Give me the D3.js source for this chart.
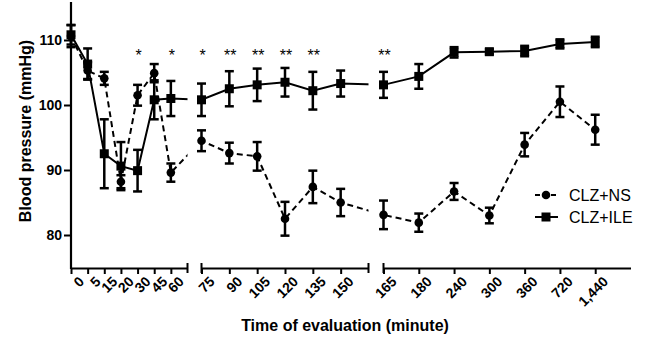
<!DOCTYPE html>
<html>
<head>
<meta charset="utf-8">
<script src="https://cdn.jsdelivr.net/npm/d3@7"></script>
<style>
  body { margin: 0; background: #fff; }
  text { font-family: "Liberation Sans", Arial, sans-serif; fill: #000; }
</style>
</head>
<body>
<div id="chart"></div>
<script>
// time points (minutes), as printed on the x axis
var times = ["0", "5", "15", "20", "30", "45", "60", "75", "90", "105", "120", "135", "150",
             "165", "180", "240", "300", "360", "720", "1,440"];
// CLZ+NS (circles, dashed)
var ns    = [110.6, 105.3, 104.1, 88.2, 101.5, 104.9, 89.6, 94.5, 92.6, 92.1, 82.5, 87.4, 85.0,
             83.1, 81.9, 86.7, 83.0, 93.9, 100.5, 96.2];
var nsErr = [1.7, 1.3, 1.0, 1.0, 1.6, 1.4, 1.4, 1.6, 1.6, 2.2, 2.6, 2.5, 2.1,
             2.2, 1.4, 1.3, 1.2, 1.8, 2.35, 2.3];
// CLZ+ILE (squares, solid)
var ile    = [110.8, 106.3, 92.5, 90.6, 89.9, 100.8, 101.0, 100.8, 102.5, 103.1, 103.5, 102.2, 103.3,
              103.1, 104.4, 108.1, 108.2, 108.3, 109.4, 109.7];
var ileErr = [1.5, 2.4, 5.3, 3.7, 3.2, 3.0, 2.7, 2.5, 2.7, 2.5, 2.2, 2.9, 2.0,
              2.0, 1.9, 0.8, 0.4, 0.8, 0.7, 0.8];
// significance marks above each time point
var signif = ["", "", "", "", "*", "", "*", "*", "**", "**", "**", "**", "",
              "**", "", "", "", "", "", ""];
var yTicks = [80, 90, 100, 110];

var w = 648, h = 340;
var axisY = 268;

// the x axis is broken in three pieces
var segs = [
  { first: 0,  last: 6,  x: d3.scaleLinear().domain([0, 7]).range([71, 187.5]) },
  { first: 7,  last: 12, x: d3.scaleLinear().domain([7, 13]).range([201.5, 368.5]) },
  { first: 13, last: 19, x: d3.scaleLinear().domain([13, 20]).range([383.5, 630.5]) }
];
function xPos(i) {
  for (var s = 0; s < segs.length; s++)
    if (i >= segs[s].first && i <= segs[s].last) return segs[s].x(i);
}

var y = d3.scaleLinear().domain([75, 115]).range([267.5, 7.5]);

var svg = d3.select("#chart").append("svg")
    .attr("width", w)
    .attr("height", h);

// clip for the connecting lines: they stop at the axis breaks
var clip = svg.append("defs").append("clipPath").attr("id", "segclip");
segs.forEach(function(s) {
  var r = s.x.range();
  clip.append("rect").attr("x", r[0]).attr("y", 0)
      .attr("width", r[1] - r[0]).attr("height", h);
});

// y axis
var yAxis = svg.append("g")
    .attr("transform", "translate(71,0)")
    .call(d3.axisLeft(y).tickValues(yTicks).tickSize(7).tickSizeOuter(0).tickPadding(2));
yAxis.select(".domain").attr("stroke-width", 2.2).attr("d", "M0,2V269");
yAxis.selectAll(".tick line").attr("stroke-width", 2);
yAxis.selectAll(".tick text")
    .style("font-size", "14px").style("font-weight", "bold")
    .attr("font-family", null);

// x axis pieces
segs.forEach(function(s, k) {
  var idx = d3.range(s.first, s.last + 1);
  var g = svg.append("g")
      .attr("transform", "translate(0," + axisY + ")")
      .call(d3.axisBottom(s.x).tickValues(idx).tickSize(6).tickSizeOuter(0)
            .tickFormat(function(i) { return times[i]; }));
  g.select(".domain").attr("stroke-width", 2.2);
  g.selectAll(".tick line").attr("stroke-width", 2);
  g.selectAll(".tick text")
      .attr("font-family", null)
      .style("font-size", "14px").style("font-weight", "bold")
      .attr("text-anchor", "end")
      .attr("transform", "translate(6,7) rotate(-45)")
      .attr("x", 0).attr("y", 0).attr("dy", "0.75em");
  // break marks
  var r = s.x.range();
  if (k > 0) g.append("line").attr("x1", r[0]).attr("x2", r[0]).attr("y1", -5).attr("y2", 5)
      .attr("stroke", "#000").attr("stroke-width", 2);
  if (k < segs.length - 1) g.append("line").attr("x1", r[1]).attr("x2", r[1]).attr("y1", -5).attr("y2", 5)
      .attr("stroke", "#000").attr("stroke-width", 2);
});

// series
var series = [
  { name: "CLZ+NS",  vals: ns,  err: nsErr,  dash: "6,4", shape: "circle" },
  { name: "CLZ+ILE", vals: ile, err: ileErr, dash: null,  shape: "square" }
];

var line = d3.line()
    .x(function(d, i) { return xPos(i); })
    .y(function(d) { return y(d); });

function drawMarker(g, shape, cx, cy) {
  if (shape == "circle")
    g.append("circle").attr("cx", cx).attr("cy", cy).attr("r", 4.3).attr("fill", "#000");
  else
    g.append("rect").attr("x", cx - 4.5).attr("y", cy - 4.5)
        .attr("width", 9).attr("height", 9).attr("fill", "#000");
}

series.forEach(function(s) {
  svg.append("path")
      .datum(s.vals)
      .attr("clip-path", "url(#segclip)")
      .attr("d", line)
      .attr("fill", "none")
      .attr("stroke", "#000")
      .attr("stroke-width", 2)
      .attr("stroke-dasharray", s.dash);
  var g = svg.append("g");
  for (var i = 0; i < s.vals.length; i++) {
    var cx = xPos(i);
    var top = y(s.vals[i] + s.err[i]);
    var bot = y(s.vals[i] - s.err[i]);
    g.append("line").attr("x1", cx).attr("x2", cx).attr("y1", top).attr("y2", bot)
        .attr("stroke", "#000").attr("stroke-width", 2.5);
    [top, bot].forEach(function(yy) {
      g.append("line").attr("x1", cx - 4.5).attr("x2", cx + 4.5).attr("y1", yy).attr("y2", yy)
          .attr("stroke", "#000").attr("stroke-width", 2.5);
    });
    drawMarker(g, s.shape, cx, y(s.vals[i]));
  }
});

// significance stars
svg.append("g").selectAll("text")
    .data(signif)
    .enter().append("text")
    .attr("x", function(d, i) { return xPos(i) + 1; })
    .attr("y", 61)
    .attr("text-anchor", "middle")
    .style("font-size", "16px")
    .text(function(d) { return d; });

// legend
var leg = svg.append("g");
series.forEach(function(s, i) {
  var ly = 195 + i * 22;
  leg.append("line").attr("x1", 535).attr("x2", 558).attr("y1", ly).attr("y2", ly)
      .attr("stroke", "#000").attr("stroke-width", 2).attr("stroke-dasharray", s.dash ? "5,3" : null);
  drawMarker(leg, s.shape, 546, ly);
  leg.append("text").attr("x", 569).attr("y", ly).attr("dy", "0.36em")
      .style("font-size", "16px").text(s.name);
});

// axis titles
svg.append("text")
    .attr("transform", "translate(31,131) rotate(-90)")
    .attr("text-anchor", "middle")
    .style("font-size", "16px").style("font-weight", "bold")
    .text("Blood pressure (mmHg)");
svg.append("text")
    .attr("x", 345).attr("y", 331)
    .attr("text-anchor", "middle")
    .style("font-size", "16px").style("font-weight", "bold")
    .text("Time of evaluation (minute)");
</script>
</body>
</html>
